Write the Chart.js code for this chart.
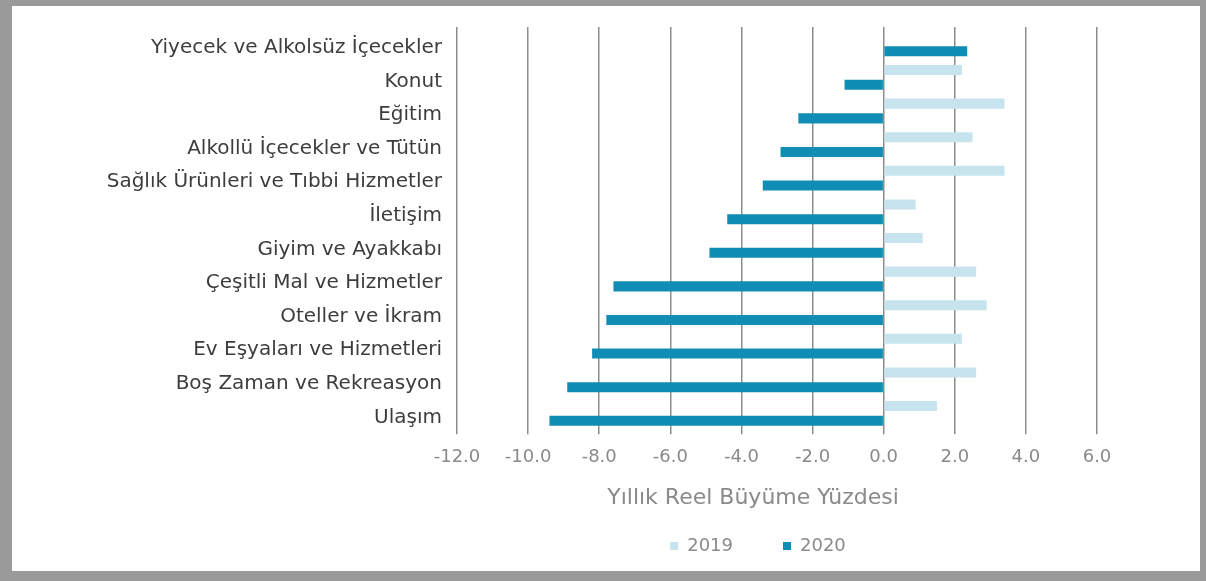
<!DOCTYPE html>
<html>
<head>
<meta charset="utf-8">
<script src="https://cdn.jsdelivr.net/npm/chart.js@4/dist/chart.umd.min.js"></script>
<style>
  html, body { margin: 0; padding: 0; background: #fff; overflow: hidden; }
  #frame { box-sizing: border-box; width: 1206px; height: 581px; border-style: solid; border-color: #9a9a9a; border-width: 6px 6px 10px 12px; }
  #wrap { position: relative; width: 1188px; height: 565px; }
</style>
</head>
<body>
<div id="frame"><div id="wrap"><canvas id="growth"></canvas></div></div>
<script>
// Hanehalkı tüketimi: harcama gruplarına göre yıllık reel büyüme (%)
const categories = [
  'Yiyecek ve Alkolsüz İçecekler', 'Konut', 'Eğitim', 'Alkollü İçecekler ve Tütün',
  'Sağlık Ürünleri ve Tıbbi Hizmetler', 'İletişim', 'Giyim ve Ayakkabı',
  'Çeşitli Mal ve Hizmetler', 'Oteller ve İkram', 'Ev Eşyaları ve Hizmetleri',
  'Boş Zaman ve Rekreasyon', 'Ulaşım'
];
const growth2019 = [null, 2.2, 3.4, 2.5, 3.4, 0.9, 1.1, 2.6, 2.9, 2.2, 2.6, 1.5];
const growth2020 = [2.35, -1.1, -2.4, -2.9, -3.4, -4.4, -4.9, -7.6, -7.8, -8.2, -8.9, -9.4];
const xMin = -12, xMax = 6, xStep = 2;
const axisTitle = 'Yıllık Reel Büyüme Yüzdesi';

const FONT = '"DejaVu Sans"';

// title and legend sit a little left of the plot centre in the original
const nudge = {
  id: 'nudge',
  afterLayout(chart) {
    const move = (box, dx, dy) => { box.left += dx; box.right += dx; box.top += dy; box.bottom += dy; };
    move(chart.titleBlock, -24, 6);
    move(chart.legend, -19, -17);
  }
};

new Chart(document.getElementById('growth').getContext('2d'), {
  type: 'bar',
  data: {
    labels: categories,
    datasets: [
      { label: '2019', data: growth2019, backgroundColor: '#c7e4ee', borderWidth: 0 },
      { label: '2020', data: growth2020, backgroundColor: '#0f8db4', borderWidth: 0 }
    ]
  },
  options: {
    indexAxis: 'y',
    animation: false,
    responsive: true,
    maintainAspectRatio: false,
    categoryPercentage: 0.88,
    barPercentage: 0.68,
    layout: { padding: { top: 21, right: 103, bottom: -3, left: 0 } },
    scales: {
      x: {
        min: xMin, max: xMax,
        ticks: { stepSize: xStep, color: '#8a8a8a', padding: 12, font: { family: FONT, size: 18 },
                 callback: v => v.toFixed(1) },
        grid: { color: '#8c8c8c', lineWidth: 1.5, drawTicks: true, tickLength: 4 },
        border: { display: false }
      },
      y: {
        afterFit: s => { s.width = 445; s.paddingTop = 0; s.paddingBottom = 0; },
        ticks: { color: '#3d3d3d', padding: 15, labelOffset: 4, font: { family: FONT, size: 20 } },
        grid: { display: false, drawTicks: false },
        border: { display: false }
      }
    },
    plugins: {
      title: {
        display: true, text: axisTitle, position: 'bottom', fullSize: false, weight: 500,
        color: '#8a8a8a', padding: 0, font: { family: FONT, size: 22, weight: 'normal', lineHeight: 1.1 }
      },
      legend: {
        position: 'bottom', fullSize: false, maxHeight: 70,
        labels: { boxWidth: 8, boxHeight: 8, padding: 50, color: '#8a8a8a', font: { family: FONT, size: 18 } }
      },
      tooltip: { enabled: false }
    }
  },
  plugins: [nudge]
});
</script>
</body>
</html>
